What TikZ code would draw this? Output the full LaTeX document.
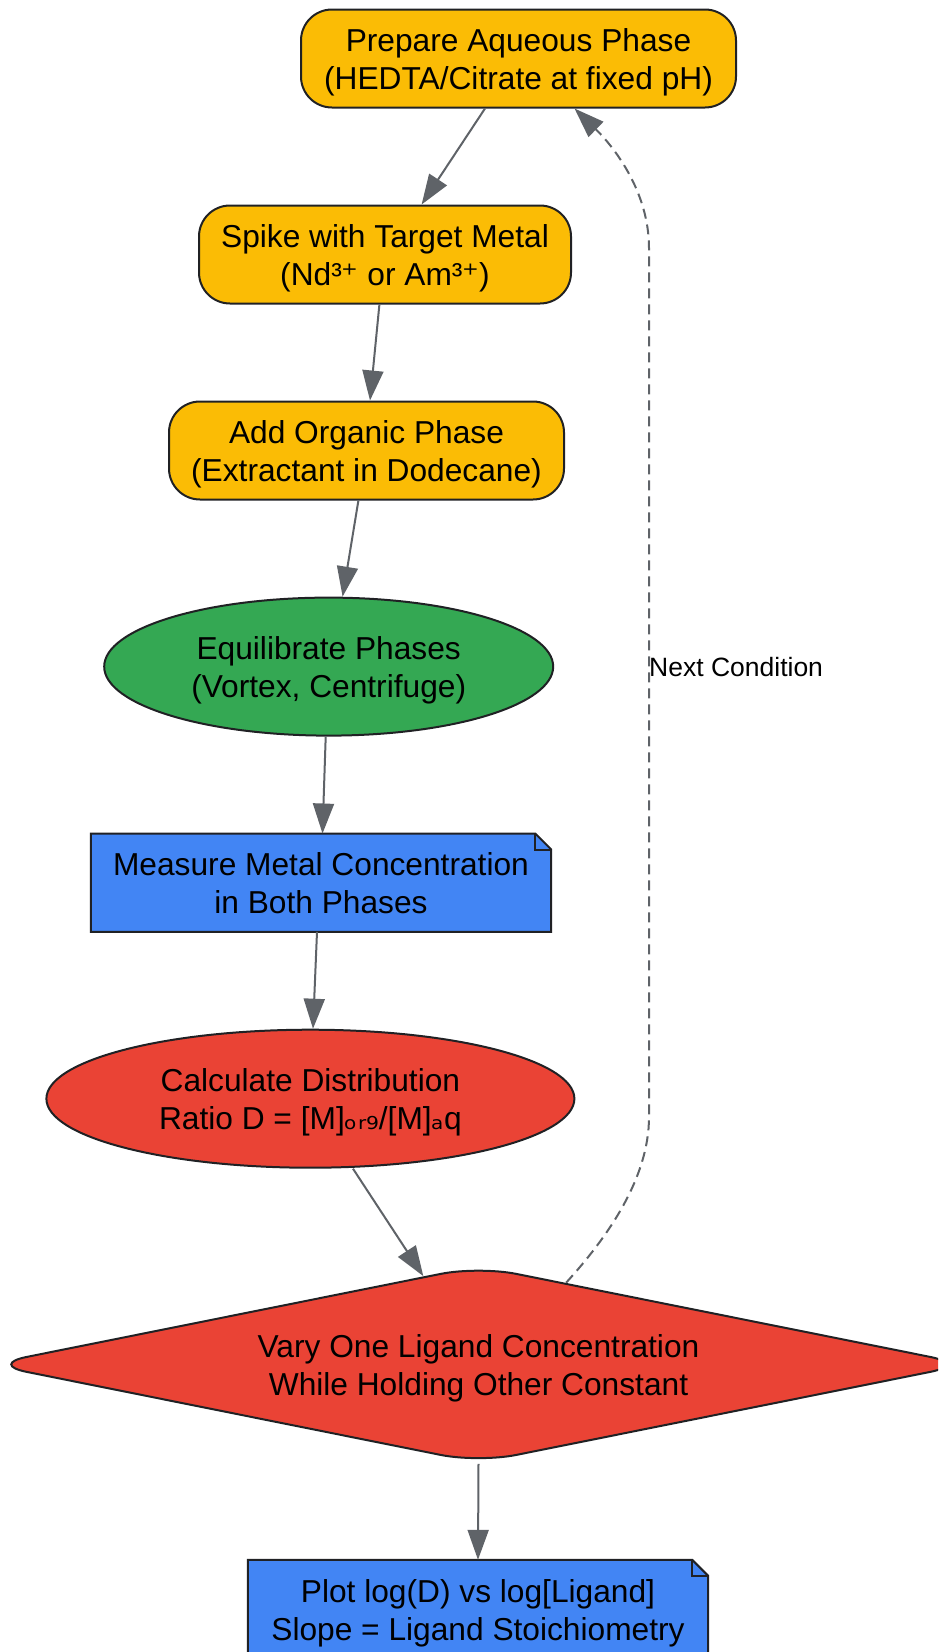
\documentclass[tikz,border=0pt]{standalone}
\usepackage{fontspec}
\setmainfont{Liberation Sans}
\newfontfamily\dvfont{DejaVu Sans}
\usetikzlibrary{shapes.geometric,arrows.meta,backgrounds}
\definecolor{cyellow}{HTML}{FBBC05}
\definecolor{cgreen}{HTML}{34A853}
\definecolor{cblue}{HTML}{4285F4}
\definecolor{cred}{HTML}{EA4335}
\definecolor{cedge}{HTML}{5F6368}
\definecolor{cborder}{HTML}{202124}
\newcommand\mktwo[2]{\rule{0pt}{31pt}#1\\#2\rule[-7pt]{0pt}{7pt}}
\begin{document}
\begin{tikzpicture}[x=1pt,y=-1pt,
  base/.style={draw=cborder,line width=2pt,align=center,text=black,
    font=\fontsize{31.7pt}{38pt}\selectfont,inner sep=0pt},
  rbox/.style={base,rectangle,rounded corners=31pt,fill=cyellow,minimum height=98pt},
  ell/.style={base,ellipse,minimum height=138pt},
  notebox/.style={align=center,text=black,font=\fontsize{31.7pt}{38pt}\selectfont,
    inner sep=0pt,minimum height=98pt},
  notefill/.style={fill=cblue,draw=cborder,line width=2pt,line join=miter},
  dia/.style={base,diamond,aspect=4.95,fill=cred,rounded corners=38pt,
    minimum width=979pt,minimum height=197pt},
  edge/.style={draw=cedge,line width=2pt,-{Triangle[length=30pt,width=21pt]}},
  loopedge/.style={edge,dashed,dash pattern=on 10pt off 6pt}
]
\useasboundingbox (0,0) rectangle (938,1652);
\clip (0,0) rectangle (938,1652);

\node[rbox,minimum width=435pt] (prep) at (518.5,58.5) {\mktwo{Prepare Aqueous Phase}{(HEDTA/Citrate at fixed pH)}};
\node[rbox,minimum width=372pt] (spike) at (385,254.5) {\mktwo{Spike with Target Metal}{(Nd³{\dvfont ⁺} or Am³{\dvfont ⁺})}};
\node[rbox,minimum width=395pt] (org) at (366.5,450.5) {\mktwo{Add Organic Phase}{(Extractant in Dodecane)}};
\node[ell,fill=cgreen,minimum width=449pt] (equil) at (328.7,666.6) {\mktwo{Equilibrate Phases}{(Vortex, Centrifuge)}};
\node[notebox,minimum width=460pt] (meas) at (321,882.7) {\mktwo{Measure Metal Concentration}{in Both Phases}};
\node[ell,fill=cred,minimum width=528pt] (calc) at (310.4,1098.7) {\mktwo{Calculate Distribution}{Ratio D = [M]{\dvfont ₒᵣ₉}/[M]{\dvfont ₐ}q}};
\node[dia] (vary) at (478.5,1364.4) {\mktwo{Vary One Ligand Concentration}{While Holding Other Constant}};
\node[notebox,minimum width=460pt] (plot) at (478,1609) {\mktwo{Plot log(D) vs log[Ligand]}{Slope = Ligand Stoichiometry}};

\begin{scope}[on background layer]
  \foreach \n in {meas,plot}{
    \path[notefill] (\n.south west) -- (\n.north west) -- ([xshift=-16pt]\n.north east)
      -- ([yshift=-16pt]\n.north east) -- (\n.south east) -- cycle;
    \draw[draw=cborder,line width=2pt] ([xshift=-16pt]\n.north east) -- ([xshift=-16pt,yshift=-16pt]\n.north east)
      -- ([yshift=-16pt]\n.north east);
  }
\end{scope}

\draw[edge] ([xshift=-33.5pt]prep.south) -- ([xshift=36.6pt]spike.north);
\draw[edge] ([xshift=-5.6pt]spike.south) -- ([xshift=3.5pt]org.north);
\draw[edge] ([xshift=-8.1pt]org.south) -- ([xshift=13.9pt]equil.north);
\draw[edge] ([xshift=-3pt]equil.south) -- ([xshift=1.5pt]meas.north);
\draw[edge] ([xshift=-4pt]meas.south) -- ([xshift=2.6pt]calc.north);
\draw[edge] ([xshift=42.6pt]calc.south) -- (vary.122);
\draw[edge] (vary.south) -- (plot.north);

\coordinate (vup) at (649,1117);
\coordinate (vtop) at (649,248);
\draw[loopedge] (vary.43) .. controls (605,1240) and (649,1180) .. (vup) -- (vtop)
  .. controls (649,190) and (612,145) .. ([xshift=56pt]prep.south);
\node[anchor=west,inner sep=0pt,font=\fontsize{26.5pt}{32pt}\selectfont] (lbl) at (649,667) {Next Condition};
\end{tikzpicture}
\end{document}
